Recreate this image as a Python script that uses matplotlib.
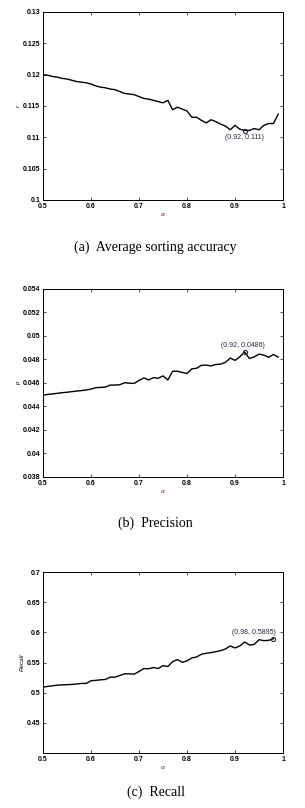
from matplotlib import pyplot as plt
import matplotlib.ticker as ticker
import numpy as np

plt.rcParams['font.family'] = ['Liberation Sans', 'DejaVu Sans']

# alpha values
alpha = [0.50, 0.51, 0.52, 0.53, 0.54, 0.55, 0.56, 0.57, 0.58, 0.59,
         0.60, 0.61, 0.62, 0.63, 0.64, 0.65, 0.66, 0.67, 0.68, 0.69,
         0.70, 0.71, 0.72, 0.73, 0.74, 0.75, 0.76, 0.77, 0.78, 0.79,
         0.80, 0.81, 0.82, 0.83, 0.84, 0.85, 0.86, 0.87, 0.88, 0.89,
         0.90, 0.91, 0.92, 0.93, 0.94, 0.95, 0.96, 0.97, 0.98, 0.99]

# (a) average sorting accuracy
acc = [0.1200, 0.1199, 0.1197, 0.1196, 0.1194, 0.1193, 0.1191, 0.1189, 0.1188, 0.1187,
       0.1185, 0.1182, 0.1180, 0.1179, 0.1177, 0.1176, 0.1173, 0.1170, 0.1169, 0.1168,
       0.1165, 0.1162, 0.1161, 0.1159, 0.1157, 0.1155, 0.1159, 0.1144, 0.1148, 0.1145,
       0.1142, 0.1132, 0.1132, 0.1127, 0.1123, 0.1128, 0.1125, 0.1121, 0.1118, 0.1112,
       0.1119, 0.1113, 0.1111, 0.1111, 0.1114, 0.1112, 0.1119, 0.1122, 0.1122, 0.1137]

# (b) precision
prec = [0.04497, 0.04502, 0.04507, 0.04512, 0.04517, 0.04521, 0.04526, 0.04531, 0.04535, 0.04540,
        0.04548, 0.04560, 0.04562, 0.04565, 0.04582, 0.04582, 0.04585, 0.04602, 0.04598, 0.04596,
        0.04622, 0.04643, 0.04626, 0.04645, 0.04640, 0.04660, 0.04625, 0.04700, 0.04700, 0.04690,
        0.04680, 0.04720, 0.04725, 0.04750, 0.04752, 0.04745, 0.04757, 0.04760, 0.04775, 0.04812,
        0.04792, 0.04823, 0.04864, 0.04808, 0.04822, 0.04845, 0.04837, 0.04818, 0.04842, 0.04820]

# (c) recall, last point at 0.98
rec = [0.5093, 0.5105, 0.5115, 0.5126, 0.5130, 0.5133, 0.5137, 0.5145, 0.5154, 0.5154,
       0.5198, 0.5205, 0.5214, 0.5220, 0.5258, 0.5258, 0.5286, 0.5313, 0.5313, 0.5308,
       0.5352, 0.5401, 0.5398, 0.5418, 0.5401, 0.5450, 0.5434, 0.5516, 0.5549, 0.5505,
       0.5527, 0.5577, 0.5593, 0.5637, 0.5654, 0.5665, 0.5680, 0.5698, 0.5725, 0.5775,
       0.5742, 0.5775, 0.5841, 0.5791, 0.5800, 0.5879, 0.5863, 0.5868, 0.5895]

fig = plt.figure(figsize=(3.05, 8.08), dpi=100)


def panel(rect, x, y, ylim, yticks, ylabel, best, label, label_off, label_ha,
          caption, cap_y):
    ax = fig.add_axes(rect)
    ax.plot(x, y, color='black', linewidth=1.0)
    ax.plot(best[0], best[1], marker='o', markersize=3, markerfacecolor='none',
            markeredgecolor='#1f2a44', markeredgewidth=0.8)
    ax.annotate(label, xy=best, xytext=label_off, textcoords='offset points',
                ha=label_ha, va='center', fontsize=5, color='#1f2a44')
    ax.set_xlim(0.5, 1)
    ax.set_ylim(*ylim)
    ax.set_xticks([0.5, 0.6, 0.7, 0.8, 0.9, 1])
    ax.set_yticks(yticks)
    ax.xaxis.set_major_formatter(ticker.FormatStrFormatter('%g'))
    ax.yaxis.set_major_formatter(ticker.FormatStrFormatter('%g'))
    ax.tick_params(direction='in', length=2.5, width=0.5, labelsize=5,
                   top=True, right=True, pad=2)
    for lab in ax.get_xticklabels() + ax.get_yticklabels():
        lab.set_fontweight('bold')
    for s in ax.spines.values():
        s.set_linewidth(0.7)
    ax.set_ylabel(ylabel, fontsize=4.5, style='italic', labelpad=1)
    ax.set_xlabel(r'$\alpha$', fontsize=4.5, labelpad=1, color='#7a2020')
    fig.text(0.51, cap_y, caption, ha='center', va='center', fontsize=10,
             family='Liberation Serif')
    return ax


panel([0.141, 0.7525, 0.787, 0.2327], alpha, acc, (0.1, 0.13),
      [0.1, 0.105, 0.11, 0.115, 0.12, 0.125, 0.13], 'r',
      (0.92, 0.111), '(0.92, 0.111)', (0, -4.5), 'center',
      '(a)  Average sorting accuracy', 0.694)

panel([0.141, 0.4097, 0.787, 0.2327], alpha, prec, (0.038, 0.054),
      [0.038, 0.04, 0.042, 0.044, 0.046, 0.048, 0.05, 0.052, 0.054], 'p',
      (0.92, 0.0486), '(0.92, 0.0486)', (-1, 5), 'center',
      '(b)  Precision', 0.353)

panel([0.141, 0.068, 0.787, 0.224], alpha[:49], rec, (0.4, 0.7),
      [0.45, 0.5, 0.55, 0.6, 0.65, 0.7], 'Recall',
      (0.98, 0.5895), '(0.98, 0.5895)', (2, 4.5), 'right',
      '(c)  Recall', 0.0198)

plt.savefig('out.png', dpi=100)
